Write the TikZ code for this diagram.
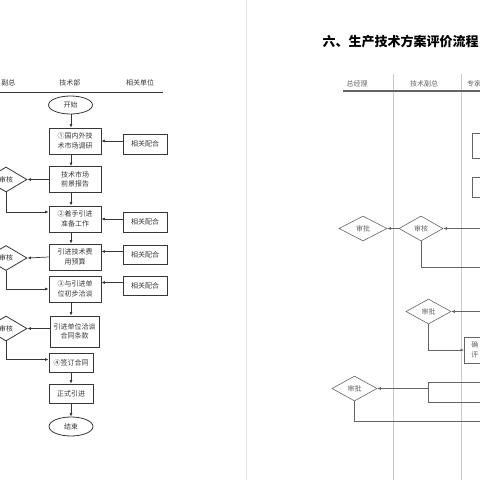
\documentclass[tikz,border=0pt]{standalone}
\usepackage{fontspec}
\setmainfont{Noto Sans CJK SC}
\usepackage{tikz}
\usetikzlibrary{
    positioning,
    arrows.meta,
    calc,
    shapes.geometric
}
\definecolor{flowGray}{RGB}{55,55,55}
\definecolor{laneGray}{RGB}{200,200,200}
\definecolor{pageGray}{RGB}{228,228,228}
\definecolor{softGray}{RGB}{100,100,100}

\begin{document}
\begin{tikzpicture}[x=1pt, y=-1pt,
        font=\fontsize{7}{9.5}\selectfont,
        arr/.style={-{Latex[length=3.5pt,width=3pt]}, flowGray, line width=0.7pt},
        term/.style={ellipse, draw=flowGray, line width=0.8pt, minimum width=44pt, minimum height=18pt, inner sep=0pt, text=flowGray},
        box/.style={draw=flowGray, line width=0.8pt, align=center, inner sep=1pt, minimum width=52pt, minimum height=26pt, text=flowGray},
        relbox/.style={draw=flowGray, line width=0.8pt, minimum width=44pt, minimum height=20pt, inner sep=0pt, text=flowGray},
        check/.style={diamond, draw=flowGray, line width=0.8pt, minimum width=42pt, minimum height=25pt, inner sep=0pt, text=flowGray},
        rarr/.style={-{Latex[length=3.5pt,width=3pt]}, softGray, line width=0.6pt},
        rline/.style={softGray, line width=0.6pt},
        rbox/.style={draw=softGray, line width=0.6pt, inner sep=0pt, text=softGray},
        rcheck/.style={diamond, draw=softGray, line width=0.6pt, minimum width=46pt, minimum height=25pt, inner sep=0pt, text=softGray}]
    \useasboundingbox (0,0) rectangle (480,480);

    % left page
    \node[anchor=east, text=flowGray, inner xsep=0pt] (hVice) at (15.5,83) {副总};
    \node[text=flowGray] (hTech) at (70,83) {技术部};
    \node[text=flowGray] (hRel) at (140,83) {相关单位};
    \draw[flowGray, line width=1pt] (0,92) -- (163,92);
    \coordinate (col) at (71,0);

    \node[term] (start) at (70.5,105) {开始};
    \node[box] (survey) at (75,141) {①国内外技\\术市场调研};
    \node[box] (report) at (75,179.5) {技术市场\\前景报告};
    \node[box] (prep) at (75,219) {②着手引进\\准备工作};
    \node[box] (budget) at (75,257) {引进技术费\\用预算};
    \node[box] (talk) at (75,289) {③与引进单\\位初步洽谈};
    \node[box, minimum width=49pt, minimum height=31pt] (clause) at (74.5,331.5) {引进单位洽谈\\合同条款};
    \node[box, minimum width=44pt, minimum height=19pt] (sign) at (71,362.5) {④签订合同};
    \node[box, minimum width=44pt, minimum height=19pt] (formal) at (71,393.5) {正式引进};
    \node[term, minimum height=19pt] (finish) at (71,426.5) {结束};

    \node[relbox] (rel1) at (145,144) {相关配合};
    \node[relbox] (rel2) at (145,222) {相关配合};
    \node[relbox, minimum height=19pt] (rel3) at (145,254.5) {相关配合};
    \node[relbox, minimum height=19pt] (rel4) at (145,285.5) {相关配合};

    \node[check] (chk1) at (6,179.5) {审核};
    \node[check] (chk2) at (6,258) {审核};
    \node[check] (chk3) at (6,328.5) {审核};

    \draw[arr] (start.south -| col) -- (survey.north -| col);
    \draw[arr] (survey.south -| col) -- (report.north -| col);
    \draw[arr] (report.south -| col) -- (prep.north -| col);
    \draw[arr] (prep.south -| col) -- (budget.north -| col);
    \draw[arr] (talk.south -| col) -- (clause.north -| col);
    \draw[arr] (sign.south -| col) -- (formal.north -| col);
    \draw[arr] (formal.south -| col) -- (finish.north -| col);

    \foreach \r/\b in {rel1/survey, rel2/prep, rel3/budget, rel4/talk} {
        \coordinate (p\r) at ([yshift=3pt]\r.west);
        \draw[arr] (p\r) -- (p\r -| \b.east);
    }

    \draw[arr] (report.west) -- (chk1.east);
    \coordinate (j1) at ($(prep.west)+(0,-7)$);
    \draw[arr] (chk1.south) |- (j1);
    \draw[arr] (budget.west) -- (chk2.east);
    \draw[arr] (chk2.south) |- (talk.west);
    \draw[arr] (clause.west |- chk3.east) -- (chk3.east);
    \coordinate (j3) at ($(sign.west)+(0,-3)$);
    \draw[arr] (chk3.south) |- (j3);

    % page edge
    \draw[pageGray, line width=1.5pt] (246.7,0) -- (246.7,480);

    % right page
    \node[font=\bfseries\fontsize{13}{15}\selectfont] (title) at (400.5,42) {六、生产技术方案评价流程};
    \node[text=softGray] (hGm) at (357,84) {总经理};
    \node[text=softGray] (hTv) at (424,84) {技术副总};
    \node[anchor=west, text=softGray, inner xsep=0pt] (hExp) at (467,84) {专家};
    \foreach \x in {393,461}
        \draw[laneGray, line width=0.6pt] (\x,74) -- (\x,482);
    \draw[softGray, line width=1.2pt] (343,91) -- (490,91);

    \node[rbox, anchor=west, minimum width=40pt, minimum height=25pt] (rb1) at (472,145.5) {};
    \node[rbox, anchor=west, minimum width=40pt, minimum height=20pt] (rb2) at (472,187) {};

    \node[rcheck, minimum width=44pt] (audit) at (421,228.5) {审核};
    \node[rcheck, minimum width=48pt] (apv1) at (363,228.5) {审批};
    \coordinate (in1) at (490,228.5);
    \coordinate (out1) at (490,267);
    \draw[rarr] (in1) -- (audit.east);
    \draw[rarr] (audit.west) -- (apv1.east);
    \draw[rline] (audit.south) |- (out1);

    \node[rcheck, minimum width=45pt] (apv2) at (428.5,311.5) {审批};
    \node[rbox, anchor=west, text width=30pt, align=left, inner xsep=7pt, minimum height=26pt] (confirm) at (464,350) {确\\评};
    \coordinate (in2) at (490,311.5);
    \draw[rarr] (in2) -- (apv2.east);
    \draw[rarr] (apv2.south) |- (confirm.west);

    \node[rcheck, minimum width=45pt] (apv3) at (354.5,388.5) {审批};
    \node[rbox, anchor=west, minimum width=70pt, minimum height=20pt] (plan) at (428,392) {};
    \coordinate (out3) at (490,421);
    \draw[rarr] (plan.west |- apv3.east) -- (apv3.east);
    \draw[rline] (apv3.south) |- (out3);
\end{tikzpicture}
\end{document}
